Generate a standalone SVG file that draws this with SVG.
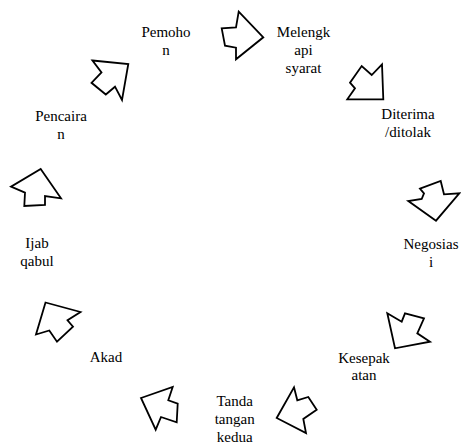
<svg xmlns="http://www.w3.org/2000/svg" width="461" height="443" viewBox="0 0 461 443">
<style>
.arr{fill:#fff;stroke:#000;stroke-width:1.8;stroke-linejoin:miter}
.lbl{font-family:"Liberation Serif","Times New Roman",serif;font-size:15px;fill:#000;text-anchor:middle}
</style>
<rect width="461" height="443" fill="#fff"/>
<g id="connectors">
<polygon class="arr" points="238.7,11.7 263.3,37.3 236,59.3 236,47.7 225,45.7 221.7,28.3 236,27.3"/>
<polygon class="arr" points="382,64.3 383.3,99.3 347.3,99.3 355,88.3 350,82.7 361.7,66 371.7,75"/>
<polygon class="arr" points="420,188.7 440.7,181 444,194.3 459.3,193.3 436,220.7 408.3,201 421.7,199 424,193.3"/>
<polygon class="arr" points="387.3,313.3 401.7,321.7 405,313.3 424,318.3 417.3,333.3 430,341.7 395,348.3"/>
<polygon class="arr" points="294,387.3 297.3,400.3 308.3,397 316.7,409.7 303.3,419 306,433 276.7,418"/>
<polygon class="arr" points="141,398 172.7,387 168.3,400.3 177.7,403.7 176.7,422.3 161,417 155.7,429.7"/>
<polygon class="arr" points="45.5,302.5 80.5,312 67.5,320.3 73,326.7 57,341.7 49.3,330.5 36,334.5"/>
<polygon class="arr" points="40.7,169 61,198.3 45,196 45,205 24.3,206 25,192.7 11,186.7"/>
<polygon class="arr" points="92.5,60.5 128.3,64 122,100 115,86.7 105.8,94.5 91.5,82.8 101.5,72.5"/>
</g>
<g id="n1"><text class="lbl" x="166" y="37">Pemoho</text><text class="lbl" x="166" y="55">n</text></g>
<g id="n2"><text class="lbl" x="303.5" y="37">Melengk</text><text class="lbl" x="303.5" y="55">api</text><text class="lbl" x="303.5" y="73">syarat</text></g>
<g id="n3"><text class="lbl" x="408" y="119">Diterima</text><text class="lbl" x="408" y="137">/ditolak</text></g>
<g id="n4"><text class="lbl" x="431" y="249">Negosias</text><text class="lbl" x="431" y="267">i</text></g>
<g id="n5"><text class="lbl" x="364" y="362.5">Kesepak</text><text class="lbl" x="364" y="380">atan</text></g>
<g id="n6"><text class="lbl" x="234.7" y="406">Tanda</text><text class="lbl" x="234.7" y="424">tangan</text><text class="lbl" x="234.7" y="441.5">kedua</text></g>
<g id="n7"><text class="lbl" x="106" y="361.5">Akad</text></g>
<g id="n8"><text class="lbl" x="37" y="247.5">Ijab</text><text class="lbl" x="37" y="265.5">qabul</text></g>
<g id="n9"><text class="lbl" x="61" y="121">Pencaira</text><text class="lbl" x="61" y="139">n</text></g>
</svg>
